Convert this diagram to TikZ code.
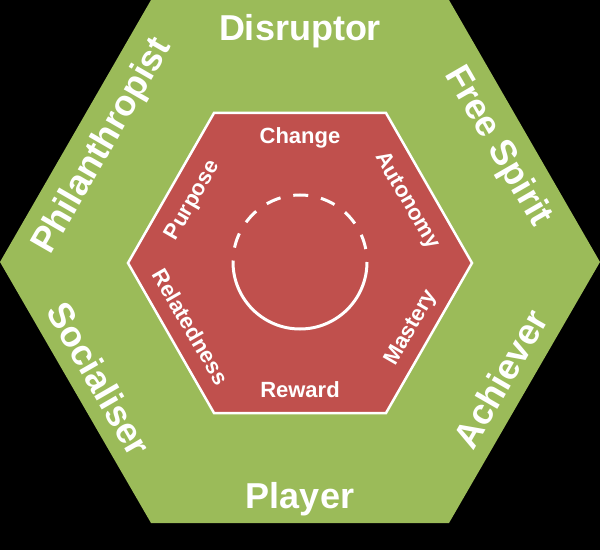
\documentclass[tikz,border=0pt]{standalone}
\usepackage{fontspec}
\setmainfont{Liberation Sans}
\usetikzlibrary{calc}
\definecolor{hexgreen}{HTML}{9BBB59}
\definecolor{hexred}{HTML}{C0504D}
\begin{document}
\begin{tikzpicture}[x=1pt,y=1pt,
  outerlbl/.style={font=\fontsize{36}{36}\selectfont\bfseries, text=white, inner sep=0pt, anchor=base},
  innerlbl/.style={font=\fontsize{22}{22}\selectfont\bfseries, text=white, inner sep=0pt, anchor=base},
  ring/.style={draw=white, line width=3pt}]
\fill[black] (0,0) rectangle (600,550);
\useasboundingbox (0,0) rectangle (600,550);
% outer hexagon (clockwise)
\coordinate (A) at (151,550);
\coordinate (B) at (449,550);
\coordinate (C) at (600,288);
\coordinate (D) at (449,27);
\coordinate (E) at (151,27);
\coordinate (F) at (0,288);
\fill[hexgreen] (A)--(B)--(C)--(D)--(E)--(F)--cycle;
% inner hexagon (clockwise)
\coordinate (P1) at (214,437);
\coordinate (P2) at (386,437);
\coordinate (P3) at (472,287);
\coordinate (P4) at (386,137);
\coordinate (P5) at (214,137);
\coordinate (P6) at (128,287);
\filldraw[fill=hexred, draw=white, line width=2.5pt, line join=miter] (P1)--(P2)--(P3)--(P4)--(P5)--(P6)--cycle;
% outer labels
\node[outerlbl] (disruptor) at ($(A)!0.5!(B)!40.4pt!-90:(B)$) {Disruptor};
\node[outerlbl, rotate=-60] (freespirit) at ($(B)!0.5!(C)!40.4pt!-90:(C)$) {Free Spirit};
\node[outerlbl, rotate=60] (achiever) at ($(C)!0.5!(D)!14.6pt!-90:(D)$) {Achiever};
\node[outerlbl] (player) at ($(D)!0.5!(E)!14.6pt!-90:(E)$) {Player};
\node[outerlbl, rotate=-60] (socialiser) at ($(E)!0.5!(F)!14.6pt!-90:(F)$) {Socialiser};
\node[outerlbl, rotate=60] (philanthropist) at ($(F)!0.5!(A)!40.4pt!-90:(A)$) {Philanthropist};
% inner labels
\node[innerlbl] (change) at ($(P1)!0.5!(P2)!30.9pt!-90:(P2)$) {Change};
\node[innerlbl, rotate=-60] (autonomy) at ($(P2)!0.5!(P3)!30.9pt!-90:(P3)$) {Autonomy};
\node[innerlbl, rotate=60] (mastery) at ($(P3)!0.5!(P4)!15.1pt!-90:(P4)$) {Mastery};
\node[innerlbl] (reward) at ($(P4)!0.5!(P5)!15.1pt!-90:(P5)$) {Reward};
\node[innerlbl, rotate=-60] (relatedness) at ($(P5)!0.5!(P6)!15.1pt!-90:(P6)$) {Relatedness};
\node[innerlbl, rotate=60] (purpose) at ($(P6)!0.5!(P1)!30.9pt!-90:(P1)$) {Purpose};
% circle
\coordinate (O) at (300,288);
\draw[ring] ($(O)+(180:67pt)$) arc[start angle=180, end angle=360, radius=67pt];
\draw[ring, dash pattern=on 15pt off 13pt, dash phase=15pt] ($(O)+(0:67pt)$) arc[start angle=0, end angle=180, radius=67pt];
\end{tikzpicture}
\end{document}
